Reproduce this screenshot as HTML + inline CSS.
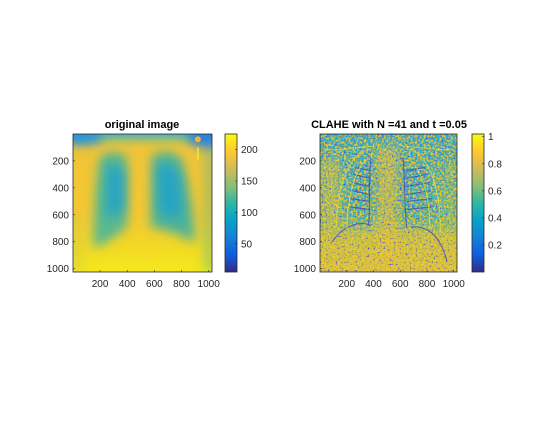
<!DOCTYPE html>
<html><head><meta charset="utf-8"><style>
html,body{margin:0;padding:0;background:#fff;}
#fig{position:relative;width:560px;height:420px;font-family:"Liberation Sans",Arial,sans-serif;}
svg text{font-family:"Liberation Sans",Arial,sans-serif;}
</style></head><body>
<div id="fig">
<svg id="s" width="560" height="420" xmlns="http://www.w3.org/2000/svg">
<defs>
 <linearGradient id="parula" x1="0" y1="1" x2="0" y2="0">
  <stop offset="0" stop-color="#352a87"/><stop offset="0.12" stop-color="#0f5cdd"/>
  <stop offset="0.25" stop-color="#1481d6"/><stop offset="0.38" stop-color="#06a4ca"/>
  <stop offset="0.5" stop-color="#2eb7a4"/><stop offset="0.62" stop-color="#87bf77"/>
  <stop offset="0.75" stop-color="#d1bb59"/><stop offset="0.87" stop-color="#fec832"/>
  <stop offset="1" stop-color="#f9fb0e"/>
 </linearGradient>
 <linearGradient id="lbg" x1="0" y1="0" x2="0" y2="1">
  <stop offset="0" stop-color="#50b0c0"/><stop offset="0.05" stop-color="#b0c060"/>
  <stop offset="0.1" stop-color="#f0c438"/><stop offset="0.6" stop-color="#f5c830"/>
  <stop offset="0.8" stop-color="#f2d826"/><stop offset="1" stop-color="#f4e81c"/>
 </linearGradient>
 <linearGradient id="rbg" x1="0" y1="0" x2="0" y2="1">
  <stop offset="0" stop-color="#30a8c8"/><stop offset="0.6" stop-color="#40b0b0"/>
  <stop offset="0.75" stop-color="#c0c048"/><stop offset="1" stop-color="#d8c040"/>
 </linearGradient>
 <filter id="blur" x="-30%" y="-30%" width="160%" height="160%"><feGaussianBlur stdDeviation="40"/></filter>
 <filter id="noiseY" filterUnits="userSpaceOnUse" x="320" y="134" width="137" height="138">
  <feTurbulence type="fractalNoise" baseFrequency="0.45" numOctaves="2" seed="3" result="t"/>
  <feColorMatrix in="t" type="matrix" values="0 0 0 0 0  0 0 0 0 0  0 0 0 0 0  4 0 0 0 -1.7" result="a"/>
  <feFlood flood-color="#f2c830"/><feComposite in2="a" operator="in"/>
 </filter>
 <filter id="noiseB" filterUnits="userSpaceOnUse" x="320" y="134" width="137" height="138">
  <feTurbulence type="fractalNoise" baseFrequency="0.5" numOctaves="2" seed="11" result="t"/>
  <feColorMatrix in="t" type="matrix" values="0 0 0 0 0  0 0 0 0 0  0 0 0 0 0  4 0 0 0 -2.4" result="a"/>
  <feFlood flood-color="#3050e0"/><feComposite in2="a" operator="in"/>
 </filter>
</defs>

<!-- Left panel -->
<text x="142" y="128" text-anchor="middle" font-size="11" font-weight="bold">original image</text>
<svg x="73" y="134" width="139" height="138" viewBox="0 0 1024 1024" preserveAspectRatio="none">
 <rect width="1024" height="1024" fill="url(#lbg)"/>
 <g filter="url(#blur)">
  <path d="M200 170 C260 110 360 120 400 180 L400 690 C330 750 240 810 150 850 C150 600 170 300 200 170Z" fill="#58b890"/>
  <path d="M580 170 C620 110 740 120 800 180 C860 400 900 650 900 810 C800 750 680 710 570 690 Z" fill="#50b498"/>
  <ellipse cx="60" cy="20" rx="160" ry="60" fill="#2a90d8"/>
  <ellipse cx="1000" cy="20" rx="160" ry="80" fill="#2a80e0"/>
  <rect x="980" y="100" width="44" height="924" fill="#40b0a0" opacity="0.7"/>
  <rect x="0" y="600" width="60" height="424" fill="#c8c848" opacity="0.6"/>
 </g>
 <g filter="url(#blur)" opacity="0.8">
  <path d="M250 230 C300 210 360 240 380 300 L380 560 C330 600 270 620 240 600Z" fill="#1aa0d0"/>
  <path d="M620 230 C680 210 760 240 790 320 L800 620 C730 640 660 600 630 560Z" fill="#1aa0d0"/>
 </g>
 <circle cx="920" cy="40" r="22" fill="#fab02a"/>
 <rect x="915" y="100" width="10" height="90" fill="#f8f020"/>
</svg>
<rect x="73" y="134" width="139" height="138" fill="none" stroke="#262626" stroke-width="0.8"/>
<rect x="225" y="134" width="12" height="138" fill="url(#parula)" stroke="#262626" stroke-width="0.8"/>

<!-- Right panel -->
<text x="389" y="128" text-anchor="middle" font-size="11" font-weight="bold">CLAHE with N =41 and t =0.05</text>
<g>
 <rect x="320" y="134" width="137" height="138" fill="url(#rbg)"/>
 <svg x="320" y="134" width="137" height="138" viewBox="0 0 1024 1024" preserveAspectRatio="none">
  <g filter="url(#blur)" opacity="0.7">
   <rect x="430" y="100" width="150" height="900" fill="#e0c03a"/>
   <rect x="0" y="180" width="150" height="520" fill="#c8c048"/>
   <rect x="900" y="200" width="124" height="500" fill="#80c070"/>
  </g>
 </svg>
 <rect x="320" y="134" width="137" height="138" filter="url(#noiseY)"/>
 <rect x="320" y="134" width="137" height="138" filter="url(#noiseB)"/>
 <svg x="320" y="134" width="137" height="138" viewBox="0 0 1024 1024" preserveAspectRatio="none">
  <g fill="none" stroke="#3a40c8" stroke-width="8" opacity="0.75">
   <path d="M380 180 C360 400 380 600 360 680"/><path d="M620 180 C640 400 630 600 650 700"/>
   <path d="M90 800 C200 650 330 650 380 680"/><path d="M680 690 C800 680 900 750 950 950"/>
   <path d="M250 300 L380 330 M230 420 L380 450 M220 540 L370 560 M640 330 L800 300 M640 450 L830 420 M650 560 L850 540"/>
   <path d="M260 250 L370 270 M240 360 L370 390 M230 480 L370 500 M650 270 L780 250 M640 390 L820 360 M650 500 L840 480"/>
  </g>
  <g fill="none" stroke="#f8e030" stroke-width="7" opacity="0.7">
   <path d="M120 700 C130 400 200 200 330 120"/><path d="M900 720 C900 400 820 200 700 120"/>
   <path d="M80 120 L400 90 M620 90 L960 120"/>
   <path d="M200 700 C210 450 260 260 360 180"/><path d="M820 700 C820 450 760 260 660 180"/>
  </g>
 </svg>
</g>
<rect x="320" y="134" width="137" height="138" fill="none" stroke="#262626" stroke-width="0.8"/>
<rect x="472" y="134" width="12" height="138" fill="url(#parula)" stroke="#262626" stroke-width="0.8"/>
<g id="ticks"></g>
</svg>
</div>
<script>
const imgTicks = [200, 400, 600, 800, 1000];
const leftCbTicks = [50, 100, 150, 200];
const leftCbRange = [5, 225];
const rightCbTicks = [0.2, 0.4, 0.6, 0.8, 1];
const rightCbLabels = ["0.2", "0.4", "0.6", "0.8", "1"];
const rightCbRange = [0, 1.02];
const imgRange = [0.5, 1024.5];

const NS = "http://www.w3.org/2000/svg";
const g = document.getElementById("ticks");
function el(tag, attrs, txt) {
  const e = document.createElementNS(NS, tag);
  for (const k in attrs) e.setAttribute(k, attrs[k]);
  if (txt !== undefined) e.textContent = txt;
  g.appendChild(e);
  return e;
}
function lin(d0, d1, r0, r1) { return v => r0 + (v - d0) / (d1 - d0) * (r1 - r0); }

function imageAxes(x0, y0, w, h, prefix) {
  const sx = lin(imgRange[0], imgRange[1], x0, x0 + w);
  const sy = lin(imgRange[0], imgRange[1], y0, y0 + h);
  imgTicks.forEach(v => {
    const x = sx(v), y = sy(v);
    let t = el("line", {x1: x, x2: x, y1: y0 + h, y2: y0 + h - 2, stroke: "#262626", "stroke-width": 0.6});
    
    
    t = el("line", {x1: x0, x2: x0 + 2, y1: y, y2: y, stroke: "#262626", "stroke-width": 0.6});
    
    
    let l = el("text", {x: x, y: y0 + h + 15, "text-anchor": "middle", "font-size": 10, fill: "#262626"}, String(v));
    
    
    l = el("text", {x: x0 - 4, y: y + 3.5, "text-anchor": "end", "font-size": 10, fill: "#262626"}, String(v));
    
    
  });
}
function colorbarAxis(x0, y0, w, h, ticks, labels, range, prefix) {
  const sy = lin(range[0], range[1], y0 + h, y0);
  ticks.forEach((v, i) => {
    const y = sy(v);
    let t = el("line", {x1: x0 + w, x2: x0 + w - 2, y1: y, y2: y, stroke: "#262626", "stroke-width": 0.6});
    
    
    let l = el("text", {x: x0 + w + 4, y: y + 3.5, "font-size": 10, fill: "#262626"}, labels[i]);
    
    
  });
}
imageAxes(73, 134, 139, 138, "left");
imageAxes(320, 134, 137, 138, "right");
colorbarAxis(225, 134, 12, 138, leftCbTicks, leftCbTicks.map(String), leftCbRange, "left-colorbar");
colorbarAxis(472, 134, 12, 138, rightCbTicks, rightCbLabels, rightCbRange, "right-colorbar");
</script>
</body></html>
